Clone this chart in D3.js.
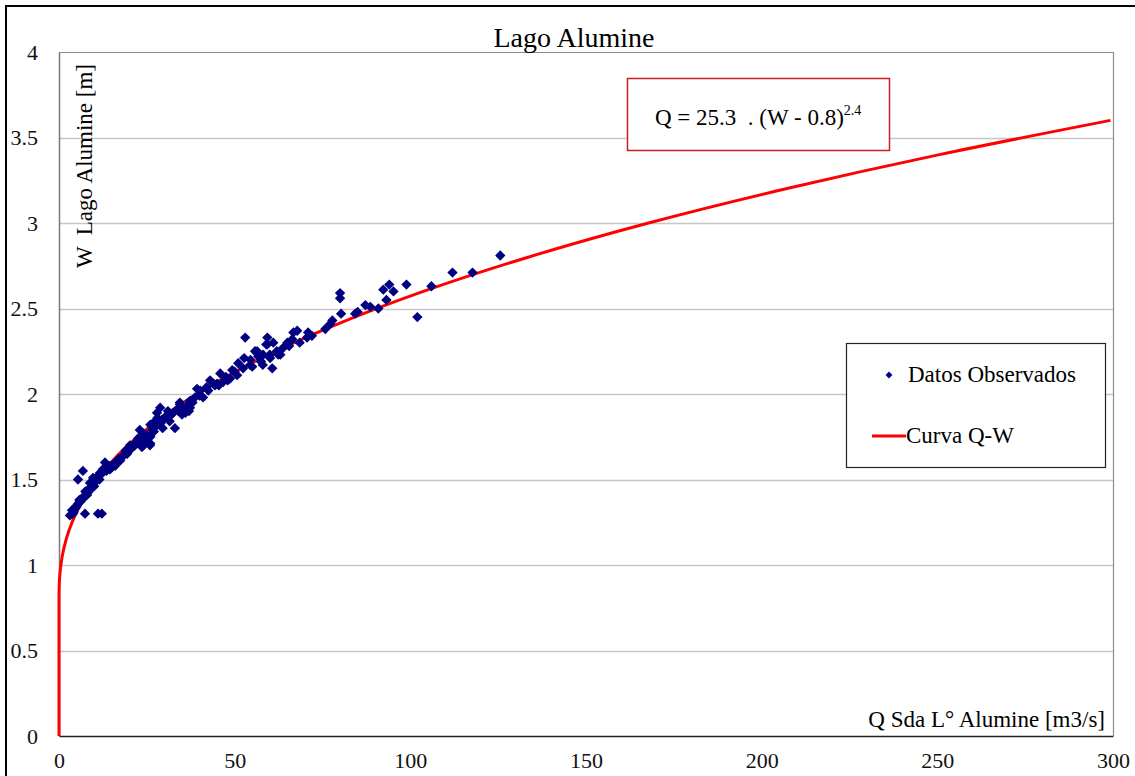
<!DOCTYPE html>
<html>
<head>
<meta charset="utf-8">
<script src="https://cdn.jsdelivr.net/npm/d3@7/dist/d3.min.js"></script>
<style>
  html, body { margin: 0; padding: 0; background: #fff; }
  text { white-space: pre; }
</style>
</head>
<body>
<svg id="chart" width="1135" height="776"></svg>
<script>
// ---- Data ----
const title = "Lago Alumine";
const yAxisLabel = "W  Lago Alumine [m]";
const xAxisLabel = "Q Sda L\u00B0 Alumine [m3/s]";
const xTicks = [0, 50, 100, 150, 200, 250, 300];
const yTicks = [0, 0.5, 1, 1.5, 2, 2.5, 3, 3.5, 4];
const seriesNames = ["Datos Observados", "Curva Q-W"];

// Observed points: discharge Q [m3/s] and level W [m]
const obsQ = [125.6,117.7,112,106,102,98.9,94,92.3,95.2,93.2,90.9,88.6,80,80,80.3,84.3,87.2,77.8,77.2,75.8,
  70.9,70.6,67.8,66.7,66.4,65,63.8,59.3,61,59.3,62.4,60,58.1,60.7,53,52.7,59,55.8,56.7,60.1,
  45.9,49.3,50.7,52.4,54.4,48.7,43,45,46.7,40.2,39.3,38.7,37.3,34.4,33.6,35.2,37.3,32.5,25.9,28.8,
  33,34.4,36,41,44.4,47.5,51,54.5,63,56.4,57.5,27.9,29.3,26.8,26,23,24,22.5,25,26,
  24,21.6,18.3,17.4,16,14.5,23.6,20.2,19.4,17.9,16.5,13.1,14.5,12.5,11.7,11,6.8,5.4,9.7,9.4,
  8.3,8,6.8,6,5.1,4.6,3.7,3.1,7.4,11.1,12.2,9.7,8.8,10.5,7.5,5.8,4.2,30.5,31.5,28,
  27,29.5,35,37,42,40,50,65.5,68.5,72,85,26,19,21,15,10,62,58,55,44,31,25,
  4,5,5.5,6.5,7,8.5,9,10,11.5,12,13.5,15.5,17,19,20.5,22,23.5,24.5,26.5,27.5,
  29,30,32,34,36.5,38,42.5,45.5,48];
const obsW = [2.81,2.71,2.71,2.63,2.45,2.64,2.64,2.61,2.60,2.55,2.50,2.51,2.59,2.56,2.47,2.47,2.52,2.43,2.41,2.38,
  2.36,2.33,2.37,2.36,2.32,2.30,2.27,2.33,2.30,2.29,2.23,2.23,2.23,2.15,2.33,2.21,2.29,2.25,2.22,2.21,
  2.12,2.14,2.11,2.15,2.17,2.09,2.08,2.06,2.07,2.02,2.03,1.98,1.96,1.94,1.91,1.92,1.92,1.89,1.70,1.92,
  1.80,1.95,1.89,1.98,2.05,2.10,2.18,2.20,2.23,2.25,2.19,1.89,1.85,1.83,1.82,1.79,1.77,1.74,1.73,1.71,
  1.70,1.70,1.64,1.61,1.58,1.56,1.69,1.70,1.65,1.63,1.61,1.60,1.58,1.56,1.54,1.52,1.55,1.50,1.48,1.46,
  1.44,1.41,1.39,1.37,1.35,1.33,1.32,1.29,1.30,1.30,1.30,1.51,1.48,1.49,1.43,1.38,1.31,1.87,1.84,1.86,
  1.78,1.80,1.88,1.90,2.04,1.99,2.13,2.28,2.30,2.34,2.48,1.75,1.67,1.69,1.57,1.46,2.25,2.17,2.16,2.06,1.90,1.76,
  1.30,1.34,1.36,1.38,1.40,1.43,1.45,1.48,1.50,1.53,1.55,1.59,1.62,1.66,1.68,1.72,1.73,1.75,1.79,1.81,
  1.83,1.86,1.88,1.90,1.93,1.95,2.02,2.05,2.08];

// Rating curve Q-W
const curveW = [0, 0.8, 0.85, 0.9, 0.95, 1.0, 1.1, 1.2, 1.3, 1.4, 1.5, 1.6, 1.8, 2.0, 2.2, 2.4, 2.6, 2.8, 3.0, 3.2, 3.4, 3.6];
const curveQ = [0, 0, 0.02, 0.1, 0.27, 0.53, 1.41, 2.81, 4.79, 7.43, 10.75, 14.81, 25.3, 39.2, 56.7, 78.2, 103.7, 133.5, 167.8, 206.9, 250.6, 299.3];

const eqMain = "Q = 25.3  . (W - 0.8)";
const eqExp = "2.4";

// ---- Layout ----
const FONT = "'Liberation Serif'";
const svg = d3.select("#chart");
const L = 59, R = 1113, T = 52, B = 736;

const x = d3.scaleLinear().domain([0, 300]).range([L, R]);
const y = d3.scaleLinear().domain([0, 4]).range([B, T]);

// outer frame
svg.append("rect").attr("x", 6).attr("y", 6).attr("width", 1160).attr("height", 800)
  .attr("fill", "none").attr("stroke", "#000").attr("stroke-width", 2);

// gridlines
svg.append("g").selectAll("line").data(yTicks.filter(d => d > 0 && d < 4)).join("line")
  .attr("x1", L).attr("x2", R).attr("y1", d => Math.round(y(d)) + 0.5).attr("y2", d => Math.round(y(d)) + 0.5)
  .attr("stroke", "#c6c6c6").attr("stroke-width", 1.3);

// plot border (top/right gray)
svg.append("path").attr("d", `M${L},${T + 0.5}H${R + 0.5}V${B}`)
  .attr("fill", "none").attr("stroke", "#8c8c8c").attr("stroke-width", 1.2);

// axes
const yAxis = d3.axisLeft(y).tickValues(yTicks).tickSize(0).tickPadding(21).tickFormat(d3.format("~g"));
const gy = svg.append("g").attr("transform", `translate(${L},0)`).call(yAxis);
gy.attr("font-family", FONT);
gy.select(".domain").attr("stroke", "#7a7a7a").attr("stroke-width", 1.5);
gy.selectAll("text").attr("font-size", 22).attr("fill", "#111").attr("font-family", FONT);

const xAxis = d3.axisBottom(x).tickValues(xTicks).tickSize(0).tickPadding(16).tickFormat(d3.format("~g"));
const gx = svg.append("g").attr("transform", `translate(0,${B})`).call(xAxis);
gx.attr("font-family", FONT);
gx.select(".domain").attr("stroke", "#222").attr("stroke-width", 1.5);
gx.selectAll("text").attr("font-size", 22).attr("fill", "#111").attr("font-family", FONT);

// curve
const line = d3.line().x((d, i) => x(curveQ[i])).y((d, i) => y(curveW[i])).curve(d3.curveMonotoneY);
svg.append("path").attr("d", line(curveW)).attr("fill", "none").attr("stroke", "#ff0000").attr("stroke-width", 3);

// observed points (diamonds)
const diamond = d3.symbol().type(d3.symbolDiamond2).size(68);
svg.append("g").selectAll("path").data(obsQ).join("path")
  .attr("transform", (d, i) => `translate(${x(d)},${y(obsW[i])})`)
  .attr("d", diamond).attr("fill", "#000080");

// title
svg.append("text").attr("x", 574).attr("y", 47).attr("text-anchor", "middle").attr("font-family", FONT)
  .attr("font-size", 28).attr("fill", "#000").text(title);

// axis titles
svg.append("text").attr("transform", "translate(92,268) rotate(-90)").attr("font-family", FONT)
  .attr("font-size", 23).attr("fill", "#000").text(yAxisLabel);
svg.append("text").attr("x", 1105).attr("y", 727).attr("text-anchor", "end").attr("font-family", FONT)
  .attr("font-size", 23).attr("fill", "#000").text(xAxisLabel);

// equation box
svg.append("rect").attr("x", 627.5).attr("y", 78.5).attr("width", 262).attr("height", 72)
  .attr("fill", "#fff").attr("stroke", "#cc1f1f").attr("stroke-width", 1.5);
const eq = svg.append("text").attr("x", 655).attr("y", 125).attr("font-size", 23).attr("fill", "#000").attr("font-family", FONT);
eq.append("tspan").text(eqMain);
eq.append("tspan").attr("font-size", 14).attr("dy", -10).text(eqExp);

// legend
svg.append("rect").attr("x", 846.5).attr("y", 343.5).attr("width", 259).attr("height", 124)
  .attr("fill", "#fff").attr("stroke", "#222").attr("stroke-width", 1.2);
svg.append("path").attr("transform", "translate(889,375)")
  .attr("d", d3.symbol().type(d3.symbolDiamond2).size(30)).attr("fill", "#000080");
svg.append("text").attr("x", 908).attr("y", 382).attr("font-size", 23).attr("fill", "#000").attr("font-family", FONT).text(seriesNames[0]);
svg.append("line").attr("x1", 872).attr("x2", 906).attr("y1", 436).attr("y2", 436)
  .attr("stroke", "#ff0000").attr("stroke-width", 3);
svg.append("text").attr("x", 906).attr("y", 443).attr("font-size", 23).attr("fill", "#000").attr("font-family", FONT).text(seriesNames[1]);
</script>
</body>
</html>
